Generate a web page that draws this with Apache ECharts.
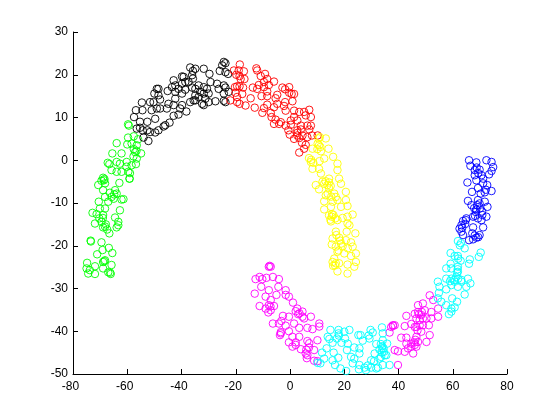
<!DOCTYPE html>
<html><head><meta charset="utf-8">
<style>html,body{margin:0;padding:0;background:#fff}#c{width:560px;height:420px}</style>
<script src="https://cdn.jsdelivr.net/npm/echarts@6/dist/echarts.min.js"></script>
</head><body><div id="c"></div>
<script>
const xTicks = {min:-80,max:80,step:20};
const yTicks = {min:-50,max:30,step:10};
const black = [[-24.4,23],[-23.8,22.7],[-25,22.2],[-25.9,20.9],[-23.8,20.6],[-22.8,20.2],[-36.8,21.7],[-34.9,21.4],[-31.8,21.4],[-29.7,20.2],[-35.8,20.9],[-36.1,19.9],[-35.8,19.1],[-39.2,19.5],[-39.8,19.6],[-42.9,18.7],[-42.3,17.5],[-38.6,18.3],[-37.4,18.3],[-39.8,17.9],[-43.5,17.1],[-41.1,16.7],[-38.6,16.5],[-48.5,16.7],[-49.1,16.7],[-50,15.6],[-45.1,16.2],[-42.3,16],[-39.8,15.6],[-33.7,17.5],[-31.8,17.1],[-30.6,16.7],[-34.9,16.7],[-29.3,18.3],[-26.9,17.9],[-26.3,16.7],[-24.4,17.5],[-23.8,17],[-22.6,16],[-24.4,15.6],[-23.8,13.6],[-24.4,13.9],[-27.5,13.8],[-30,15.6],[-30,13.6],[-31.8,12.9],[-32.4,13.2],[-33.7,14.8],[-31.2,14.4],[-34.9,14],[-36.8,13.6],[-35.5,14],[-42.3,14.4],[-48.5,15.2],[-50.3,13.6],[-51.6,13.6],[-47.9,14.2],[-44.8,13.2],[-42.9,12.9],[-49.1,12.1],[-51,11.7],[-47.9,12.1],[-45.4,12.1],[-40.5,12.1],[-38.2,11.4],[-41.1,10.7],[-42.9,10.4],[-54.6,13.5],[-56.8,11.7],[-54.4,11.7],[-57.5,10.1],[-49.7,9.7],[-55.3,9],[-52.6,9],[-44.4,8.8],[-46,8.2],[-46.6,7.9],[-55.3,7.6],[-56.5,7.4],[-54.3,7],[-52.6,7],[-51.6,6.6],[-49.7,6.5],[-48.5,7],[-52.2,4.5],[-54,5.3],[-39.8,12.9],[-31.8,15.6],[-33.1,16],[-36.1,17],[-34.9,15.2]];
const red = [[-18.5,22.4],[-12.4,21.5],[-12.1,21],[-20.7,21],[-18.9,21],[-17,20.8],[-19.8,20],[-18.6,19.7],[-18.2,19],[-16.8,19],[-9.2,20.2],[-5.9,18.4],[-10.8,19.7],[-8.4,19],[-9.6,18.3],[-7.8,17.6],[-11.5,17.6],[-13.7,17],[-12.1,16.7],[-9.6,17.1],[-8.4,16.1],[-10.5,15],[-8.4,15],[-19.5,17.3],[-20.3,17.1],[-18.6,17.3],[-17.3,17],[-20.1,15.8],[-17.6,15.5],[-19.5,14.8],[-22,14],[-19.5,13.6],[-18.6,13.2],[-16.4,12.8],[-14.5,14.5],[-13,12.3],[-2.8,17],[-0.3,17.1],[-1.8,16.6],[-0.3,15.8],[1.5,15.5],[0.6,15.5],[-4.7,15.3],[-5.3,14.5],[0.9,13.8],[-1.8,13.6],[-8.4,13],[-9.6,12.2],[-10.2,11.1],[-4.7,13.2],[-5.9,12.4],[-2.2,12.7],[-1.6,11.6],[-7.1,11.1],[-6.8,10.1],[1.5,11.6],[5.2,11.3],[7.1,11.8],[3.4,11.3],[1.5,10.1],[0.3,9.3],[2.7,9.3],[5.8,10.5],[7.7,10.1],[-5.3,9.5],[-5.9,8.5],[-4,8.5],[-3.4,8.9],[-1.6,8.1],[0.3,8.3],[7.7,8.1],[6.4,8.1],[7.1,7.2],[4,8.1],[4,7.2],[2.7,7],[-0.6,7],[-0.1,6],[2.7,5.8],[3.4,5.2],[1.5,5],[4.6,5.8],[6.4,5.4],[10.2,5.8],[4.4,4.1],[5.8,3.6],[5.2,2.7],[3.4,1.8],[2.7,6.4],[8.1,5.8]];
const green = [[-63.9,4],[-60,3.7],[-58.4,3.9],[-56.5,3.5],[-57.1,1.9],[-54.9,1.6],[-57.7,0.9],[-56.5,0.4],[-65.5,1.6],[-62.1,1.6],[-67.2,-0.6],[-66.6,-0.9],[-63.9,-0.4],[-62.7,-0.8],[-60.2,-0.4],[-58.4,-1.2],[-56.8,-0.9],[-65.8,-2.3],[-63.9,-2.7],[-62.1,-2.7],[-59.6,-2.7],[-59.2,-4.3],[-59.1,-4.3],[-62.9,-5.3],[-68.9,-4.1],[-69.5,-4.8],[-68.2,-5.4],[-70.7,-5.8],[-68.9,-7],[-66.4,-7.6],[-64.5,-7],[-63.9,-7.8],[-61.4,-9.1],[-62.1,-9.2],[-68.2,-8.6],[-70.5,-9.7],[-65.8,-8.6],[-67,-9.7],[-68.2,-11.3],[-70.1,-11.3],[-62.7,-11.7],[-72.8,-12.3],[-71.3,-12.6],[-68.9,-12.8],[-70.3,-13.6],[-64.5,-13.4],[-63.3,-14.4],[-71.9,-14.8],[-69.5,-14.4],[-68.9,-15.7],[-63.3,-15.2],[-63.9,-15.7],[-67.4,-16.2],[-66.6,-17.1],[-73.5,-18.8],[-73.4,-19],[-69.5,-19.2],[-66.8,-20.5],[-69.1,-21],[-65.5,-21.7],[-71.1,-22],[-68.2,-23.4],[-68.9,-23.8],[-65.8,-24.5],[-74.8,-24],[-75,-25.3],[-71.9,-24.8],[-73.8,-25.7],[-68.9,-25.3],[-74.4,-26.5],[-71.9,-26.6],[-67,-26.2],[-66.1,-26.6],[-59.7,8.4],[-59.4,8.1],[-59.7,5.3],[-57.6,5.6],[-56,4.9],[-57.6,2.6],[-56.6,2.2],[-68.6,-4.7],[-68.4,-4.4],[-60.3,-1.5],[-59,-3],[-64.8,-8],[-65,-9],[-69,-13.5],[-67.9,-15],[-68.2,-15.5],[-68.5,-23.6],[-66.3,-26.3]];
const yellow = [[10.5,5.1],[13.2,5.1],[10.7,3.5],[10.1,2.6],[8.3,2.7],[14.2,2.7],[11.4,2.1],[12.6,0.4],[7,0.5],[7.7,-0.4],[8.3,-2],[10.7,-2],[11.4,-3.1],[15.9,0.8],[17.5,-0.8],[17.5,-2.3],[14.4,-4.3],[18.1,-4.3],[9.5,-5.8],[10.7,-6.8],[12.6,-5.5],[13.8,-5.8],[14.4,-6.5],[18.8,-5.5],[16.3,-7.8],[20.6,-7.4],[13.2,-8.2],[16.9,-8.6],[12.6,-9.6],[15.7,-9.7],[17.5,-9.3],[20.6,-9.3],[12.6,-11.5],[15.1,-10.9],[18.8,-10.9],[21.2,-10.7],[14.4,-12.9],[15.4,-13.2],[16.7,-13.6],[15.1,-14.3],[17.5,-14],[23.1,-12.7],[21.2,-13.2],[19.4,-13.5],[21.2,-14.8],[21.9,-15.2],[24.1,-17.1],[20.9,-16.7],[16.9,-16.7],[15.7,-18.3],[18.1,-18.1],[20.6,-18.7],[22.5,-19.2],[15.4,-19.7],[16.9,-20.2],[18.8,-19.5],[23.1,-20.2],[17.5,-21.4],[20,-21.8],[24.3,-21.8],[22.5,-22.4],[15.7,-23.8],[16.9,-24.1],[18.1,-24.1],[21.2,-24.4],[24.3,-23.8],[23.7,-24.9],[17.5,-26],[21.2,-26.5],[15.9,-24.7],[14.4,-5.2],[13.1,-4.9],[15,-6],[12,-5],[15.5,-12.6],[14.9,-13.9],[16,-12.8],[10.2,3.9],[11.2,3.1],[10.9,-0.2],[17.1,-17.5],[18.5,-18.8],[19.4,-20.1],[17.9,-21.1],[21.3,-20.6],[16.3,-23],[16.6,-24.6],[7.8,0.1],[8.6,-0.6],[11,5.4],[13.9,-7.8],[15.2,-8.5]];
const magenta = [[-7.5,-24.7],[-7.1,-24.9],[-7.8,-24.9],[-11.2,-27.3],[-12.7,-27.8],[-10.2,-27.8],[-8.7,-27.5],[-6.3,-27.3],[-4.1,-27.8],[-10.6,-29.6],[-4.3,-29.6],[-7.8,-30.4],[-13,-31.2],[-5,-31.5],[-1.6,-30.4],[-1.6,-31.5],[-0.4,-31.9],[-9,-31.9],[-7.1,-32.7],[1.1,-33.3],[-11.2,-34.1],[-5.9,-34.1],[-7.8,-33.9],[-9,-34.7],[-7.1,-35.1],[-8,-35.6],[2.7,-34.7],[2.1,-35.3],[4.6,-35.4],[4.6,-36.6],[5.2,-37],[7.7,-36.6],[-2.6,-36.4],[-0.4,-36.6],[-6.3,-38.2],[-4.1,-38.2],[-3.2,-37.6],[-1.6,-38.7],[1.5,-38.2],[3.4,-39.2],[10.8,-38.2],[10.8,-38.9],[8.3,-39.5],[6.4,-39.2],[-3.4,-40.5],[-3.7,-40.9],[-0.4,-40],[3.4,-41.3],[0.9,-41.3],[10.1,-42.1],[6.4,-42.3],[7.1,-42.8],[-0.4,-42.6],[2.1,-42.6],[2.1,-43.2],[0.9,-43.6],[4,-44.2],[5.8,-45.2],[6.4,-45.6],[8.9,-44.4],[6.2,-46.3],[8.9,-46.9],[10.1,-47],[37.9,-38.6],[38,-38.7],[38.6,-38.6],[37.3,-39],[36.7,-40.3],[42.3,-38.8],[42.9,-36.4],[44.7,-38.3],[41,-41.5],[42.9,-41.5],[38.6,-44.4],[39.8,-44.7],[39.8,-47.9],[42.3,-44.8],[43.5,-44],[45.4,-45.2],[42.9,-42.9],[44.7,-42.9],[46.6,-41.3],[47.2,-42.5],[46,-39],[46.6,-39],[47.8,-38.6],[49,-38.6],[48.4,-40.1],[50.3,-42.5],[51.5,-40.9],[47.2,-33.9],[49,-33.5],[51.5,-31.6],[52.8,-32.7],[46,-35.9],[47.2,-35.5],[48.4,-36.2],[49.7,-35.1],[52.1,-35.5],[50.3,-37],[52.1,-37],[54.6,-34.7],[54.6,-36.6],[51.2,-38.6],[46,-43.2],[46.6,-43.6],[44.7,-43.6],[49,-37],[47.8,-37.4],[46.6,-37],[47.5,-36],[48.6,-35.5],[45.8,-42.6],[46.2,-42],[47,-39.8],[7,-43.8],[6,-44.3],[-3.4,-40.2],[3,-36],[3.5,-35.8],[-7.2,-34.2]];
const cyan = [[14.9,-39.7],[17.9,-39.7],[17.9,-40.5],[20,-40.1],[21.9,-39.7],[13.9,-41.3],[14.5,-41.8],[17.3,-41.7],[20.3,-41.7],[25.2,-40.9],[26,-40.9],[29.7,-39.7],[30.5,-40.3],[33.9,-39.1],[34.2,-40.5],[15.7,-42.7],[19,-42.7],[21.3,-42.9],[21,-44.4],[26.8,-42.2],[29.3,-41.7],[31.8,-43],[34.2,-42.1],[35.8,-42.9],[33.9,-44],[34.6,-44.8],[33,-44.3],[35.5,-45.6],[13.5,-44],[11.8,-45],[16.1,-45],[23.7,-43.8],[25.6,-44],[22.5,-46],[25.6,-45.2],[23.7,-46.4],[31.2,-45.2],[33,-46.4],[12.6,-46.4],[11.2,-47.5],[10.2,-47.4],[15.7,-46.8],[17.8,-46.2],[16.6,-47.9],[18.6,-48.7],[20.7,-49.3],[23.1,-47.5],[25.6,-47.9],[25.4,-48.9],[28,-49.1],[27.5,-48.5],[29.9,-46.8],[29.9,-48.5],[32.4,-48.5],[31.8,-48.7],[34.2,-47.9],[36.7,-47.9],[34.9,-45.6],[33.6,-46],[61.9,-18.9],[62.6,-19.9],[64.4,-20.6],[59.2,-21.7],[60.7,-22.4],[61.9,-22.4],[62.9,-23.5],[59.2,-24.2],[57.6,-25.3],[59.5,-25.3],[61.9,-24.9],[61.9,-26.1],[61.6,-26.3],[66.3,-23.2],[66,-24.2],[70.3,-21.6],[69.6,-22.6],[54.5,-28.4],[55.1,-29.6],[57.6,-27.7],[59.5,-27.7],[60.7,-28.4],[63.2,-28.4],[65.6,-27.7],[66.5,-28.8],[65,-29.6],[64.4,-31.4],[57.6,-30.2],[59.5,-29.2],[61.9,-29.6],[54.9,-31],[54.5,-32.3],[55.8,-33.1],[57.6,-33.9],[59.8,-32.3],[61.6,-33.1],[60.7,-34.4],[59.5,-35.4],[58.6,-36],[59.5,-34.7],[63.2,-28],[61.3,-27.3],[33.9,-45],[33.5,-43],[34.5,-44],[34,-43.5],[60.5,-28],[59,-28.3],[62,-27.7],[61.8,-25.5],[62,-23],[63,-19.4],[18,-41],[29,-41],[31,-47],[28.7,-48]];
const blue = [[66,0],[68.7,-0.5],[66.5,-1.3],[72.4,0],[74.3,-0.4],[74.9,-1.6],[74.3,-2.5],[68.1,-2.3],[69.9,-2.2],[68.1,-3.5],[70.6,-3.5],[73.4,-3.3],[65.4,-5.2],[68.7,-4.7],[71.2,-4.3],[71.2,-5.4],[72.7,-5.8],[69.3,-6.5],[67.1,-7.4],[70.3,-7.8],[72.2,-6.9],[74.3,-7.2],[65.6,-9.5],[66.9,-10.5],[69.3,-9.3],[69.9,-10.1],[71.8,-9.7],[72.8,-10.9],[68.5,-12.1],[68.7,-11.5],[70.9,-12.8],[72.4,-13.2],[69.3,-13.6],[67.5,-13.2],[70.6,-14],[65,-13.6],[63.8,-14.2],[63.2,-15.2],[62.5,-16],[67.5,-15.7],[71.2,-15.7],[63.2,-16.7],[63.8,-17.5],[67.2,-17.1],[69.9,-17.5],[68.7,-18.1],[67.5,-18.5],[66,-18.7],[64.8,-14],[69,-10.5],[70,-11.3],[70.8,-12],[68.2,-13],[67.9,-11.2],[63.5,-15.8],[64.6,-14.9],[68.1,-17.6],[69.4,-18],[69.4,-3],[68.8,-1.7],[71.8,-7.5]];
const groups = [[green,'#00ff00'],[black,'#000000'],[red,'#ff0000'],[yellow,'#ffff00'],[magenta,'#ff00ff'],[cyan,'#00ffff'],[blue,'#0000ff']];
const axisBase = {
  type:'value', splitLine:{show:false},
  axisLine:{show:true,onZero:false,lineStyle:{color:'#000',width:1}},
  axisTick:{show:true,inside:true,length:5,lineStyle:{color:'#000',width:1}}
};
const labelBase = {color:'#000',fontFamily:'Liberation Sans',fontSize:12,showMinLabel:true,showMaxLabel:true};
const chart = echarts.init(document.getElementById('c'),null,{renderer:'canvas'});
chart.setOption({
  animation:false, backgroundColor:'#fff',
  grid:{left:73,right:53,top:32,bottom:46,containLabel:false},
  xAxis:Object.assign({},axisBase,{min:xTicks.min,max:xTicks.max,interval:xTicks.step,
    axisLabel:Object.assign({},labelBase,{margin:7,
      formatter:v=>v<0?'{n|'+v+'}':String(v),
      rich:{n:{padding:[0,5,0,0],fontFamily:'Liberation Sans',fontSize:12,color:'#000'}}})}),
  yAxis:Object.assign({},axisBase,{min:yTicks.min,max:yTicks.max,interval:yTicks.step,
    axisLabel:Object.assign({},labelBase,{margin:5,padding:[4,0,0,0]})}),
  series:groups.map(([d,c])=>({type:'scatter',data:d,symbol:'circle',symbolSize:7.5,clip:false,
    itemStyle:{color:'rgba(0,0,0,0)',borderColor:c,borderWidth:0.9,opacity:1},emphasis:{disabled:true}}))
});
</script></body></html>
